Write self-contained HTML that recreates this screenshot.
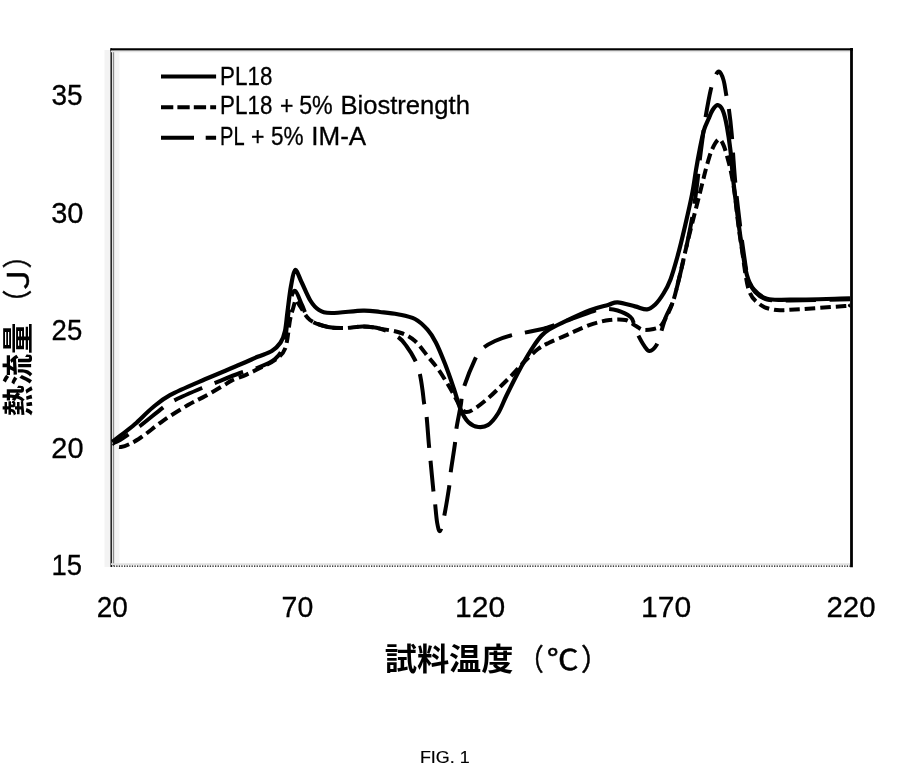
<!DOCTYPE html>
<html lang="ja">
<head>
<meta charset="utf-8">
<title>FIG. 1</title>
<style>
html,body{margin:0;padding:0;background:#fff;}
body{width:911px;height:766px;overflow:hidden;}
svg{display:block;}
.t{font-family:"Liberation Sans", sans-serif;fill:#000;}
.j{font-family:"Liberation Sans", "Noto Sans CJK JP", sans-serif;fill:#000;}
.c{fill:none;stroke:#000;stroke-width:4.2;stroke-linejoin:round;}
.d{stroke-width:4;}
</style>
</head>
<body>
<svg width="911" height="766" viewBox="0 0 911 766">
<rect width="911" height="766" fill="#fff"/>
<!-- plot frame -->
<rect x="104.5" y="50" width="15" height="517" fill="#f3f3f3"/>
<line x1="113.5" y1="50" x2="113.5" y2="566" stroke="#8c8c8c" stroke-width="1.3"/>
<line x1="111.2" y1="48.2" x2="111.2" y2="567" stroke="#1a1a1a" stroke-width="1.5"/>
<line x1="110.4" y1="49.5" x2="853" y2="49.5" stroke="#000" stroke-width="2.4"/>
<line x1="111" y1="51.4" x2="850" y2="51.4" stroke="#e4e4e4" stroke-width="1.6"/>
<line x1="851.5" y1="48.1" x2="851.5" y2="567.2" stroke="#000" stroke-width="2.8"/>
<line x1="111" y1="564.2" x2="850" y2="564.2" stroke="#e0e0e0" stroke-width="1.8"/>
<line x1="111" y1="566.2" x2="851" y2="566.2" stroke="#000" stroke-width="1.3" stroke-dasharray="1.3 1.3"/>
<!-- curves -->
<path class="c" d="M112.3 442.0 C113.6 441.0 116.2 439.0 120.0 436.0 C123.8 433.0 129.6 428.8 135.0 424.0 C140.4 419.2 146.9 412.3 152.7 407.5 C158.5 402.7 161.3 399.8 170.0 395.1 C178.7 390.4 193.2 384.4 205.0 379.3 C216.8 374.2 231.8 368.1 240.6 364.3 C249.4 360.6 252.4 359.0 257.6 356.8 C262.8 354.6 268.0 353.4 271.8 351.0 C275.6 348.6 278.4 345.8 280.6 342.5 C282.8 339.2 283.9 336.2 285.0 331.0 C286.1 325.8 286.5 319.0 287.5 311.5 C288.5 304.0 289.7 292.9 291.0 286.0 C292.3 279.1 293.4 270.7 295.2 270.0 C296.9 269.3 299.0 276.9 301.5 282.0 C304.0 287.1 307.4 295.8 310.3 300.5 C313.2 305.2 315.5 307.9 319.0 310.0 C322.5 312.1 324.1 312.9 331.4 313.0 C338.7 313.1 354.9 310.8 363.0 310.6 C371.1 310.4 374.2 311.4 380.0 312.0 C385.8 312.6 391.8 313.0 397.6 314.2 C403.4 315.4 410.0 316.4 415.0 319.0 C420.0 321.6 424.0 325.8 427.5 329.7 C431.0 333.6 433.1 337.0 436.0 342.7 C438.9 348.4 442.0 356.2 445.0 363.8 C448.0 371.4 451.2 380.8 453.8 388.4 C456.4 396.0 458.2 404.0 460.7 409.6 C463.1 415.2 465.6 419.4 468.5 422.3 C471.4 425.2 475.1 426.6 478.3 427.0 C481.6 427.4 484.7 427.2 488.0 425.0 C491.3 422.8 494.9 418.4 498.0 413.5 C501.1 408.6 503.2 402.2 506.5 395.5 C509.8 388.8 514.5 379.4 517.7 373.3 C520.9 367.2 522.9 363.6 525.5 359.2 C528.1 354.8 530.7 350.5 533.3 346.6 C535.9 342.7 538.6 338.8 541.2 336.0 C543.8 333.2 545.6 331.8 549.0 329.6 C552.4 327.5 554.7 326.3 561.5 323.1 C568.3 319.9 582.2 313.3 590.0 310.3 C597.8 307.3 603.4 306.3 608.0 305.0 C612.6 303.7 613.1 302.1 617.6 302.3 C622.1 302.5 630.1 305.2 635.0 306.4 C639.9 307.6 643.7 309.7 647.0 309.4 C650.3 309.1 652.2 307.3 655.0 304.7 C657.8 302.1 660.9 297.7 663.5 293.5 C666.1 289.3 668.2 285.5 670.5 279.4 C672.8 273.3 675.0 265.4 677.4 256.8 C679.8 248.2 682.3 237.9 684.7 227.5 C687.1 217.1 690.1 204.2 692.0 194.6 C693.9 185.0 694.7 177.8 696.0 170.0 C697.3 162.2 698.7 154.7 700.0 148.0 C701.3 141.3 702.6 134.8 704.0 130.0 C705.4 125.2 707.1 122.3 708.5 119.0 C709.9 115.7 711.1 112.3 712.6 110.0 C714.1 107.7 716.1 105.0 717.8 105.2 C719.5 105.4 721.5 107.4 723.0 111.0 C724.5 114.6 725.8 120.5 727.0 127.0 C728.2 133.5 729.4 141.5 730.4 150.0 C731.4 158.5 732.0 168.5 733.0 178.0 C734.0 187.5 735.1 196.0 736.5 207.0 C737.9 218.0 739.7 232.7 741.4 244.0 C743.1 255.3 744.8 267.4 746.9 275.0 C749.0 282.6 750.6 285.7 754.0 289.7 C757.4 293.7 761.0 297.1 767.0 298.8 C773.0 300.5 776.2 299.8 790.0 299.7 C803.8 299.6 840.0 298.6 850.0 298.4"/>
<path class="c d" stroke-dasharray="10.5 4.95" stroke-dashoffset="8" d="M113.0 443.0 C114.3 443.7 116.7 447.7 121.0 447.0 C125.3 446.3 131.7 443.4 138.7 439.0 C145.7 434.6 154.8 426.5 163.0 420.8 C171.2 415.1 180.9 409.1 188.0 405.0 C195.1 400.9 199.6 399.2 205.4 396.0 C211.2 392.8 218.6 388.4 223.0 385.8 C227.4 383.2 228.2 382.2 232.0 380.4 C235.8 378.6 241.3 376.9 246.0 374.8 C250.7 372.7 255.2 370.5 260.0 368.0 C264.8 365.5 270.8 363.3 275.0 360.0 C279.2 356.7 282.7 355.1 285.2 348.4 C287.7 341.7 288.7 326.7 290.0 320.0 C291.3 313.3 292.2 311.3 293.2 308.0 C294.2 304.7 294.9 300.3 296.0 300.0 C297.1 299.7 297.7 302.7 300.0 306.0 C302.3 309.3 305.3 316.5 310.0 320.0 C314.7 323.5 322.1 325.7 328.0 327.0 C333.9 328.3 339.6 328.1 345.4 328.0 C351.2 327.9 357.2 326.4 363.0 326.5 C368.8 326.6 373.7 327.5 380.0 328.6 C386.3 329.7 395.2 330.9 401.0 333.0 C406.8 335.1 410.6 337.2 415.0 341.0 C419.4 344.8 423.7 351.3 427.5 356.0 C431.3 360.7 434.2 363.6 438.0 369.0 C441.8 374.4 446.6 382.2 450.3 388.4 C454.0 394.6 457.4 402.1 460.0 406.0 C462.6 409.9 463.6 411.5 466.0 412.0 C468.4 412.5 470.5 411.3 474.4 408.8 C478.3 406.3 484.9 401.0 489.5 397.0 C494.1 393.0 498.1 388.8 502.0 385.0 C505.9 381.2 509.3 377.8 513.0 374.0 C516.7 370.2 519.8 366.2 524.0 362.0 C528.2 357.8 533.8 352.2 538.0 349.0 C542.2 345.8 544.5 344.9 549.0 342.7 C553.5 340.5 559.9 338.0 564.7 335.9 C569.5 333.8 573.1 331.9 578.0 329.8 C582.9 327.8 588.5 325.2 593.8 323.6 C599.1 322.0 604.3 320.6 609.6 320.0 C614.9 319.4 621.1 319.0 625.5 320.0 C629.9 321.0 633.1 324.4 636.0 326.0 C638.9 327.6 640.1 329.3 643.0 329.8 C645.9 330.3 650.7 329.6 653.6 329.0 C656.5 328.4 658.5 327.9 660.6 326.0 C662.7 324.1 663.9 321.6 666.0 317.5 C668.1 313.4 670.8 308.1 673.0 301.6 C675.2 295.1 676.7 288.0 679.0 278.7 C681.3 269.4 684.1 256.2 686.6 245.8 C689.1 235.5 691.8 225.1 693.9 216.6 C696.0 208.1 697.9 201.0 699.4 195.0 C700.9 189.0 701.8 185.4 703.0 180.6 C704.2 175.8 705.2 171.2 706.7 166.0 C708.2 160.8 710.0 154.0 712.0 149.6 C714.0 145.2 716.7 140.4 718.5 139.5 C720.3 138.6 721.6 141.2 723.0 144.0 C724.4 146.8 725.7 151.3 727.0 156.0 C728.3 160.7 729.8 166.0 731.0 172.0 C732.2 178.0 733.3 183.7 734.5 192.0 C735.7 200.3 736.8 212.3 738.0 222.0 C739.2 231.7 740.2 238.7 742.0 250.0 C743.8 261.3 745.8 280.6 748.7 289.7 C751.7 298.8 755.5 300.9 759.7 304.3 C763.9 307.7 769.0 308.9 774.0 309.8 C779.0 310.7 778.2 310.4 790.0 309.8 C801.8 309.2 835.0 306.7 845.0 306.0 C855.0 305.3 849.2 305.6 850.0 305.5"/>
<path class="c d" stroke-dasharray="30.3 13.5" stroke-dashoffset="12.4" d="M113.0 443.0 C114.2 442.5 115.5 442.8 120.0 440.0 C124.5 437.2 132.8 431.4 140.0 426.0 C147.2 420.6 157.1 412.0 163.0 407.6 C168.9 403.2 169.1 403.0 175.6 399.7 C182.1 396.4 195.6 390.7 202.0 388.0 C208.4 385.3 207.7 385.8 214.0 383.3 C220.3 380.8 232.7 375.6 240.0 373.0 C247.3 370.4 251.8 370.1 257.6 367.8 C263.4 365.5 270.6 362.8 275.0 359.0 C279.4 355.2 281.9 351.4 284.0 345.0 C286.1 338.6 286.4 328.0 287.5 320.3 C288.6 312.6 289.5 303.9 290.8 299.0 C292.1 294.1 293.5 290.0 295.4 291.0 C297.3 292.0 299.6 300.2 302.0 305.0 C304.4 309.8 305.7 316.3 310.0 320.0 C314.3 323.7 322.1 325.7 328.0 327.0 C333.9 328.3 339.6 328.1 345.4 328.0 C351.2 327.9 357.2 326.4 363.0 326.5 C368.8 326.6 374.2 326.9 380.0 328.6 C385.8 330.3 393.2 333.8 397.6 336.7 C402.0 339.6 403.5 342.1 406.4 346.0 C409.3 349.9 412.8 355.6 415.0 360.0 C417.2 364.4 418.2 367.6 419.5 372.6 C420.8 377.6 421.8 385.0 422.5 390.0 C423.2 395.0 423.4 398.4 424.0 402.5 C424.6 406.6 425.6 407.3 426.4 414.5 C427.2 421.7 428.3 438.3 429.0 445.8 C429.7 453.3 429.7 452.1 430.4 459.5 C431.1 466.9 432.6 482.9 433.3 489.9 C434.1 496.9 434.2 496.1 434.9 501.6 C435.5 507.1 436.3 518.1 437.2 523.0 C438.1 527.9 438.9 532.0 440.0 531.0 C441.1 530.0 442.5 524.2 444.0 517.0 C445.5 509.8 447.8 495.8 449.0 488.0 C450.2 480.2 450.0 477.2 451.0 470.0 C452.0 462.8 453.9 451.8 454.8 444.8 C455.7 437.8 455.5 434.5 456.5 428.0 C457.5 421.5 459.5 412.3 460.7 405.7 C461.9 399.1 461.1 396.1 463.5 388.4 C465.9 380.7 471.9 366.0 475.0 359.4 C478.1 352.8 478.7 352.1 482.0 349.0 C485.3 345.9 490.3 343.2 495.0 341.0 C499.7 338.8 505.3 337.0 510.0 335.7 C514.7 334.4 518.0 334.0 523.0 333.0 C528.0 332.0 536.2 330.3 540.0 329.5 C543.8 328.7 541.7 329.4 546.0 328.0 C550.3 326.6 557.7 323.8 565.7 321.0 C573.7 318.2 587.1 313.0 593.8 311.0 C600.5 309.0 602.0 309.1 606.0 309.0 C610.0 308.9 613.5 309.2 617.6 310.5 C621.7 311.8 627.8 314.8 630.5 317.0 C633.2 319.2 632.8 321.2 634.0 324.0 C635.2 326.8 635.8 330.3 637.6 334.0 C639.4 337.7 642.6 343.6 644.6 346.4 C646.6 349.2 647.4 351.2 649.4 351.0 C651.4 350.8 654.5 348.3 656.4 345.2 C658.3 342.1 659.4 337.0 661.0 332.3 C662.6 327.6 663.8 322.1 665.8 317.0 C667.8 311.9 670.7 308.0 672.9 301.7 C675.1 295.4 676.7 288.3 679.0 279.0 C681.3 269.7 684.3 256.8 686.6 245.8 C688.9 234.8 691.3 223.1 693.0 213.0 C694.7 202.9 695.8 194.2 697.0 185.0 C698.2 175.8 699.0 166.3 700.0 158.0 C701.0 149.7 702.1 141.8 703.0 135.0 C703.9 128.2 704.2 124.9 705.5 117.4 C706.8 109.9 709.1 96.8 710.7 90.0 C712.3 83.2 713.8 79.3 715.2 76.3 C716.6 73.2 717.8 71.1 719.2 71.7 C720.6 72.3 722.3 76.1 723.5 80.0 C724.7 83.9 725.4 90.2 726.3 95.2 C727.2 100.2 728.1 103.7 729.0 110.0 C729.9 116.3 730.9 124.7 731.6 133.0 C732.4 141.3 732.8 150.5 733.5 160.0 C734.2 169.5 734.9 179.2 736.0 190.0 C737.1 200.8 738.7 214.2 740.0 225.0 C741.3 235.8 742.7 246.2 744.0 255.0 C745.3 263.8 746.2 271.8 748.0 278.0 C749.8 284.2 751.8 288.4 755.0 292.0 C758.2 295.6 761.2 298.1 767.0 299.5 C772.8 300.9 776.2 300.6 790.0 300.5 C803.8 300.4 840.0 299.4 850.0 299.2"/>
<!-- legend -->
<line class="c d" x1="161" y1="76.4" x2="216.1" y2="76.4"/>
<line class="c d" x1="161" y1="107.3" x2="216.1" y2="107.3" stroke-dasharray="12.3 4.1"/>
<line class="c d" x1="161" y1="137.8" x2="216.1" y2="137.8" stroke-dasharray="33 11.7"/>
<!-- text -->
<text class="t" x="220.10" y="84.60" font-size="25" stroke="#000" stroke-width="0.3" textLength="52.24" lengthAdjust="spacingAndGlyphs">PL18</text>
<text class="t" y="114.40" font-size="25" stroke="#000" stroke-width="0.3"><tspan x="220.10" textLength="52.24" lengthAdjust="spacingAndGlyphs">PL18</tspan> <tspan x="279.90" textLength="13.47" lengthAdjust="spacingAndGlyphs">+</tspan> <tspan x="299.20" textLength="33.57" lengthAdjust="spacingAndGlyphs">5%</tspan> <tspan x="340.40" textLength="129.59" lengthAdjust="spacingAndGlyphs">Biostrength</tspan></text>
<text class="t" y="145.20" font-size="25" stroke="#000" stroke-width="0.3"><tspan x="220.10" textLength="23.78" lengthAdjust="spacingAndGlyphs">PL</tspan> <tspan x="250.90" textLength="13.47" lengthAdjust="spacingAndGlyphs">+</tspan> <tspan x="271.00" textLength="32.56" lengthAdjust="spacingAndGlyphs">5%</tspan> <tspan x="311.30" textLength="54.88" lengthAdjust="spacingAndGlyphs">IM-A</tspan></text>
<text class="t" x="51.50" y="105.00" font-size="29.4" stroke="#000" stroke-width="0.3" textLength="31.08" lengthAdjust="spacingAndGlyphs">35</text>
<text class="t" x="51.20" y="222.50" font-size="29.4" stroke="#000" stroke-width="0.3" textLength="32.22" lengthAdjust="spacingAndGlyphs">30</text>
<text class="t" x="51.60" y="340.20" font-size="29.4" stroke="#000" stroke-width="0.3" textLength="30.63" lengthAdjust="spacingAndGlyphs">25</text>
<text class="t" x="51.30" y="458.00" font-size="29.4" stroke="#000" stroke-width="0.3" textLength="32.21" lengthAdjust="spacingAndGlyphs">20</text>
<text class="t" x="51.50" y="575.00" font-size="29.4" stroke="#000" stroke-width="0.3" textLength="30.52" lengthAdjust="spacingAndGlyphs">15</text>
<text class="t" x="96.70" y="617.00" font-size="29.4" stroke="#000" stroke-width="0.3" textLength="31.11" lengthAdjust="spacingAndGlyphs">20</text>
<text class="t" x="281.60" y="617.00" font-size="29.4" stroke="#000" stroke-width="0.3" textLength="31.65" lengthAdjust="spacingAndGlyphs">70</text>
<text class="t" x="455.00" y="617.00" font-size="29.4" stroke="#000" stroke-width="0.3" textLength="50.11" lengthAdjust="spacingAndGlyphs">120</text>
<text class="t" x="641.00" y="617.00" font-size="29.4" stroke="#000" stroke-width="0.3" textLength="50.11" lengthAdjust="spacingAndGlyphs">170</text>
<text class="t" x="826.40" y="617.00" font-size="29.4" stroke="#000" stroke-width="0.3" textLength="49.12" lengthAdjust="spacingAndGlyphs">220</text>
<text class="j"><tspan x="384.70" y="669.90" font-size="30.2" font-weight="700" textLength="128.85" lengthAdjust="spacingAndGlyphs">試料温度</tspan><tspan x="518.80" y="670.10" font-size="29.7" stroke="#000" stroke-width="0.5" textLength="24.94" lengthAdjust="spacingAndGlyphs">（</tspan><tspan x="546.70" y="669.80" font-size="28.5" stroke="#000" stroke-width="0.5" textLength="31.89" lengthAdjust="spacingAndGlyphs">℃</tspan><tspan x="581.10" y="670.10" font-size="29.7" stroke="#000" stroke-width="0.5" textLength="28.09" lengthAdjust="spacingAndGlyphs">）</tspan></text>
<text class="t" x="419.90" y="763.30" font-size="17.4" stroke="#000" stroke-width="0.2" textLength="49.81" lengthAdjust="spacingAndGlyphs">FIG. 1</text>
<text class="j" transform="rotate(-90)"><tspan x="-416.60" y="29.40" font-size="30.5" font-weight="700" textLength="93.97" lengthAdjust="spacingAndGlyphs">熱流量</tspan><tspan x="-316.30" y="28.00" font-size="29.7" stroke="#000" stroke-width="0.5" textLength="26.51" lengthAdjust="spacingAndGlyphs">（</tspan><tspan x="-296.70" y="28.80" font-size="29.7" stroke="#000" stroke-width="0.5" textLength="33.94" lengthAdjust="spacingAndGlyphs">Ｊ</tspan><tspan x="-268.60" y="28.00" font-size="29.7" stroke="#000" stroke-width="0.5" textLength="26.51" lengthAdjust="spacingAndGlyphs">）</tspan></text>
</svg>
</body>
</html>
